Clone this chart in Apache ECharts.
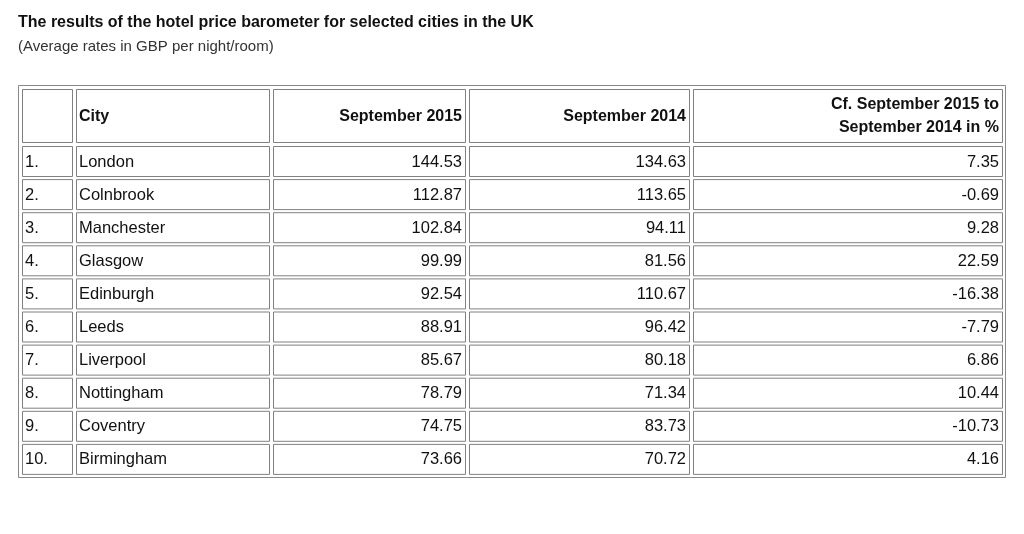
<!DOCTYPE html>
<html>
<head>
<meta charset="utf-8">
<script src="https://cdn.jsdelivr.net/npm/echarts@6/dist/echarts.min.js"></script>
<style>html,body{margin:0;background:#fff}#main{width:1024px;height:534px}</style>
</head>
<body>
<div id="main"></div>
<script>
// table data
var ranks = ['1.', '2.', '3.', '4.', '5.', '6.', '7.', '8.', '9.', '10.'];
var cities = ['London', 'Colnbrook', 'Manchester', 'Glasgow', 'Edinburgh', 'Leeds', 'Liverpool', 'Nottingham', 'Coventry', 'Birmingham'];
var sep2015 = ['144.53', '112.87', '102.84', '99.99', '92.54', '88.91', '85.67', '78.79', '74.75', '73.66'];
var sep2014 = ['134.63', '113.65', '94.11', '81.56', '110.67', '96.42', '80.18', '71.34', '83.73', '70.72'];
var change = ['7.35', '-0.69', '9.28', '22.59', '-16.38', '-7.79', '6.86', '10.44', '-10.73', '4.16'];
var headers = ['', 'City', 'September 2015', 'September 2014', 'Cf. September 2015 to\nSeptember 2014 in %'];

// layout (pixels)
var colEdges = [[22, 72], [76, 269], [273, 465], [469, 689], [693, 1002]];
var colAlign = ['left', 'left', 'right', 'right', 'right'];
var headerTop = 89, headerBottom = 142, rowTop = 146, rowStep = 33.1, rowH = 30;

var cells = [];
headers.forEach(function (h, c) {
  cells.push([colEdges[c][0], headerTop, colEdges[c][1], headerBottom, h, c === 0 ? 'left' : colAlign[c], 1]);
});
for (var r = 0; r < cities.length; r++) {
  var row = [ranks[r], cities[r], sep2015[r], sep2014[r], change[r]];
  var y0 = rowTop + r * rowStep;
  row.forEach(function (v, c) {
    cells.push([colEdges[c][0], y0, colEdges[c][1], y0 + rowH, v, colAlign[c], 0]);
  });
}

var chart = echarts.init(document.getElementById('main'));
chart.setOption({
  animation: false,
  title: {
    text: 'The results of the hotel price barometer for selected cities in the UK',
    subtext: '(Average rates in GBP per night/room)',
    left: 13, top: 10, itemGap: 8,
    textStyle: { fontFamily: 'Liberation Sans', fontSize: 16, fontWeight: 'bold', color: '#111' },
    subtextStyle: { fontFamily: 'Liberation Sans', fontSize: 15, color: '#333' }
  },
  grid: { left: 0, right: 0, top: 0, bottom: 0 },
  xAxis: { type: 'value', min: 0, max: 1024, show: false },
  yAxis: { type: 'value', min: 0, max: 534, inverse: true, show: false },
  series: [{
    type: 'custom',
    data: cells,
    renderItem: function (params, api) {
      var p0 = api.coord([api.value(0), api.value(1)]);
      var p1 = api.coord([api.value(2), api.value(3)]);
      var align = cells[params.dataIndex][5];
      var txt = cells[params.dataIndex][4];
      var bold = cells[params.dataIndex][6];
      var children = [{
        type: 'rect',
        shape: { x: p0[0] + 0.5, y: p0[1] + 0.5, width: p1[0] - p0[0], height: p1[1] - p0[1] },
        style: { fill: '#fff', stroke: '#808080', lineWidth: 1 }
      }];
      if (txt) {
        children.push({
          type: 'text',
          style: {
            text: txt,
            x: align === 'right' ? p1[0] - 3 : p0[0] + 3,
            y: (p0[1] + p1[1]) / 2 + 1,
            align: align, verticalAlign: 'middle',
            font: (bold ? 'bold 16px' : '16.5px') + ' "Liberation Sans", Arial, sans-serif',
            lineHeight: 23,
            fill: '#111'
          }
        });
      }
      return { type: 'group', children: children };
    }
  }],
  graphic: [{
    type: 'rect', silent: true, z: -1,
    shape: { x: 18.5, y: 85.5, width: 987, height: 392 },
    style: { fill: 'none', stroke: '#888', lineWidth: 1 }
  }]
});
</script>
</body>
</html>
